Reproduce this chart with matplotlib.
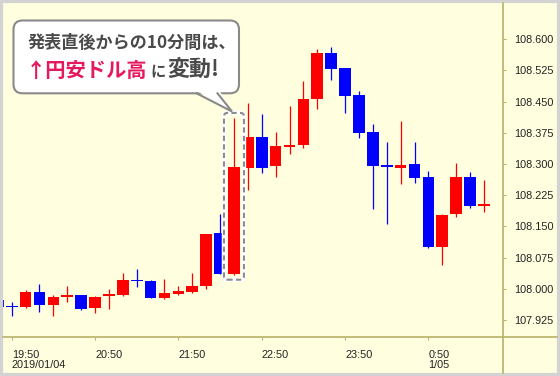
import numpy as np
import matplotlib.pyplot as plt
from matplotlib.patches import FancyBboxPatch, Polygon, Rectangle
from matplotlib.lines import Line2D

# 10-minute USD/JPY candles, 2019/01/04 19:40 - 2019/01/05 1:30
times = ["19:40", "19:50", "20:00", "20:10", "20:20", "20:30", "20:40", "20:50",
         "21:00", "21:10", "21:20", "21:30", "21:40", "21:50", "22:00", "22:10",
         "22:20", "22:30", "22:40", "22:50", "23:00", "23:10", "23:20", "23:30",
         "23:40", "23:50", "0:00", "0:10", "0:20", "0:30", "0:40", "0:50",
         "1:00", "1:10", "1:20", "1:30"]
opens = [107.973, 107.959, 107.956, 107.992, 107.961, 107.980, 107.985, 107.953,
         107.982, 107.985, 108.021, 108.019, 107.977, 107.987, 107.992, 108.008,
         108.135, 108.035, 108.291, 108.364, 108.295, 108.341, 108.346, 108.456,
         108.568, 108.530, 108.465, 108.376, 108.297, 108.291, 108.299, 108.270,
         108.100, 108.179, 108.268, 108.200]
highs = [107.975, 107.968, 107.997, 108.012, 107.985, 108.007, 107.986, 107.983,
         107.999, 108.037, 108.048, 108.021, 108.024, 108.007, 108.039, 108.132,
         108.179, 108.410, 108.446, 108.420, 108.376, 108.440, 108.500, 108.577,
         108.582, 108.530, 108.476, 108.396, 108.354, 108.404, 108.352, 108.283,
         108.180, 108.302, 108.281, 108.262]
lows = [107.955, 107.935, 107.955, 107.945, 107.935, 107.969, 107.949, 107.941,
        107.952, 107.983, 108.004, 107.977, 107.976, 107.984, 107.991, 108.000,
        108.035, 108.034, 108.238, 108.278, 108.270, 108.324, 108.339, 108.432,
        108.502, 108.424, 108.362, 108.192, 108.155, 108.251, 108.254, 108.097,
        108.057, 108.172, 108.194, 108.185]
closes = [107.956, 107.956, 107.992, 107.961, 107.981, 107.986, 107.952, 107.980,
          107.988, 108.021, 108.019, 107.978, 107.989, 107.995, 108.008, 108.131,
          108.036, 108.294, 108.364, 108.291, 108.344, 108.346, 108.456, 108.568,
          108.528, 108.464, 108.374, 108.296, 108.293, 108.298, 108.267, 108.101,
          108.177, 108.270, 108.200, 108.204]

tick_times = ["19:50", "20:50", "21:50", "22:50", "23:50", "0:50"]
tick_labels = ["19:50\n2019/01/04", "20:50", "21:50", "22:50", "23:50", "0:50\n1/05"]
price_ticks = [107.925, 108.000, 108.075, 108.150, 108.225, 108.300,
               108.375, 108.450, 108.525, 108.600]
event_time = "22:30"

BG = "#FFFFE0"
AXIS = "#B8B26A"
UP = "#FF0000"
DOWN = "#0000FF"

plt.rcParams['font.family'] = ['Liberation Sans', 'DejaVu Sans']
jp = ['Noto Sans CJK JP', 'DejaVu Sans']

W, H = 560, 376
fig = plt.figure(figsize=(W / 100, H / 100), dpi=100, facecolor=BG)
ax = fig.add_axes([3 / W, 39 / H, 500.3 / W, 334 / H])
ax.set_facecolor(BG)

x = np.arange(len(times))
o = np.array(opens)
c = np.array(closes)
cols = np.where(c >= o, UP, DOWN)
h = np.maximum(np.abs(c - o), 0.004)
mid = (o + c) / 2
ax.vlines(x, lows, highs, colors=cols, lw=0.9, zorder=2)
ax.bar(x, h, width=0.84, bottom=mid - h / 2, color=cols, lw=0, zorder=3)

ax.set_xlim(0.374, 36.39)
ax.set_ylim(107.8842, 108.6873)
for s in ax.spines.values():
    s.set_visible(False)

ax.set_xticks([times.index(t) for t in tick_times])
ax.set_xticklabels(tick_labels, ha='left', multialignment='left', linespacing=1.05)
ax.yaxis.tick_right()
ax.set_yticks(price_ticks)
ax.set_yticklabels([f"{v:.3f}" for v in price_ticks])
ax.tick_params(axis='both', direction='out', length=2.2, width=0.8, color=AXIS,
               labelsize=7.8, labelcolor='#222222')
ax.tick_params(axis='x', pad=7)
ax.tick_params(axis='y', pad=5.8)
for lbl in ax.get_xticklabels():
    lbl.set_x(lbl.get_position()[0] - 0.12)

# dashed box around the announcement candle
k = times.index(event_time)
for ec, lw, ls, z in [('white', 3.2, '-', 4), ('#8C8C8C', 1.5, (0, (2.5, 1.6)), 5)]:
    ax.add_patch(FancyBboxPatch((k - 0.72, lows[k] - 0.012), 1.44,
                                highs[k] - lows[k] + 0.025,
                                boxstyle="round,pad=0,rounding_size=0.25",
                                mutation_aspect=0.0334, fill=False,
                                ec=ec, lw=lw, ls=ls, zorder=z))

# axis lines and frame
fig.add_artist(Line2D([3 / W, 557 / W], [1 - 337 / H] * 2, color=AXIS, lw=1.2))
fig.add_artist(Line2D([503.3 / W] * 2, [1 - 3 / H, 1 - 373 / H], color=AXIS, lw=1.2))
fig.add_artist(Rectangle((0, 0), 1, 1, transform=fig.transFigure, fill=False,
                         ec='#D3D3D3', lw=4.5))

# callout bubble (pixel coordinates)
ov = fig.add_axes([0, 0, 1, 1], zorder=10)
ov.set_xlim(0, W)
ov.set_ylim(H, 0)
ov.axis('off')
ov.patch.set_alpha(0)
ov.add_patch(FancyBboxPatch((13.5, 20.5), 225.5, 72.8,
                            boxstyle="round,pad=0,rounding_size=9",
                            fc='white', ec='#8A8A8A', lw=1.5))
ov.add_patch(Polygon([(195, 90), (232, 111.5), (219, 90)], closed=True,
                     fc='white', ec='none'))
ov.plot([196.5, 232, 217.5], [93.3, 111.5, 93.3], color='#8A8A8A', lw=1.5,
        solid_joinstyle='miter')

ov.text(28, 48, "発表直後からの10分間は、", family=jp, weight='bold',
        fontsize=12.3, color='#4A4A4A', va='baseline', ha='left')
ov.text(26, 77, "↑円安ドル高", family=jp, weight='bold', fontsize=14.6,
        color='#E5195E', va='baseline', ha='left')
ov.text(150, 77, "に", family=jp, weight='bold', fontsize=11,
        color='#4A4A4A', va='baseline', ha='left')
ov.text(167, 77, "変動!", family=jp, weight='bold', fontsize=15.8,
        color='#4A4A4A', va='baseline', ha='left')

fig.savefig("out.png", dpi=100, facecolor=BG)
